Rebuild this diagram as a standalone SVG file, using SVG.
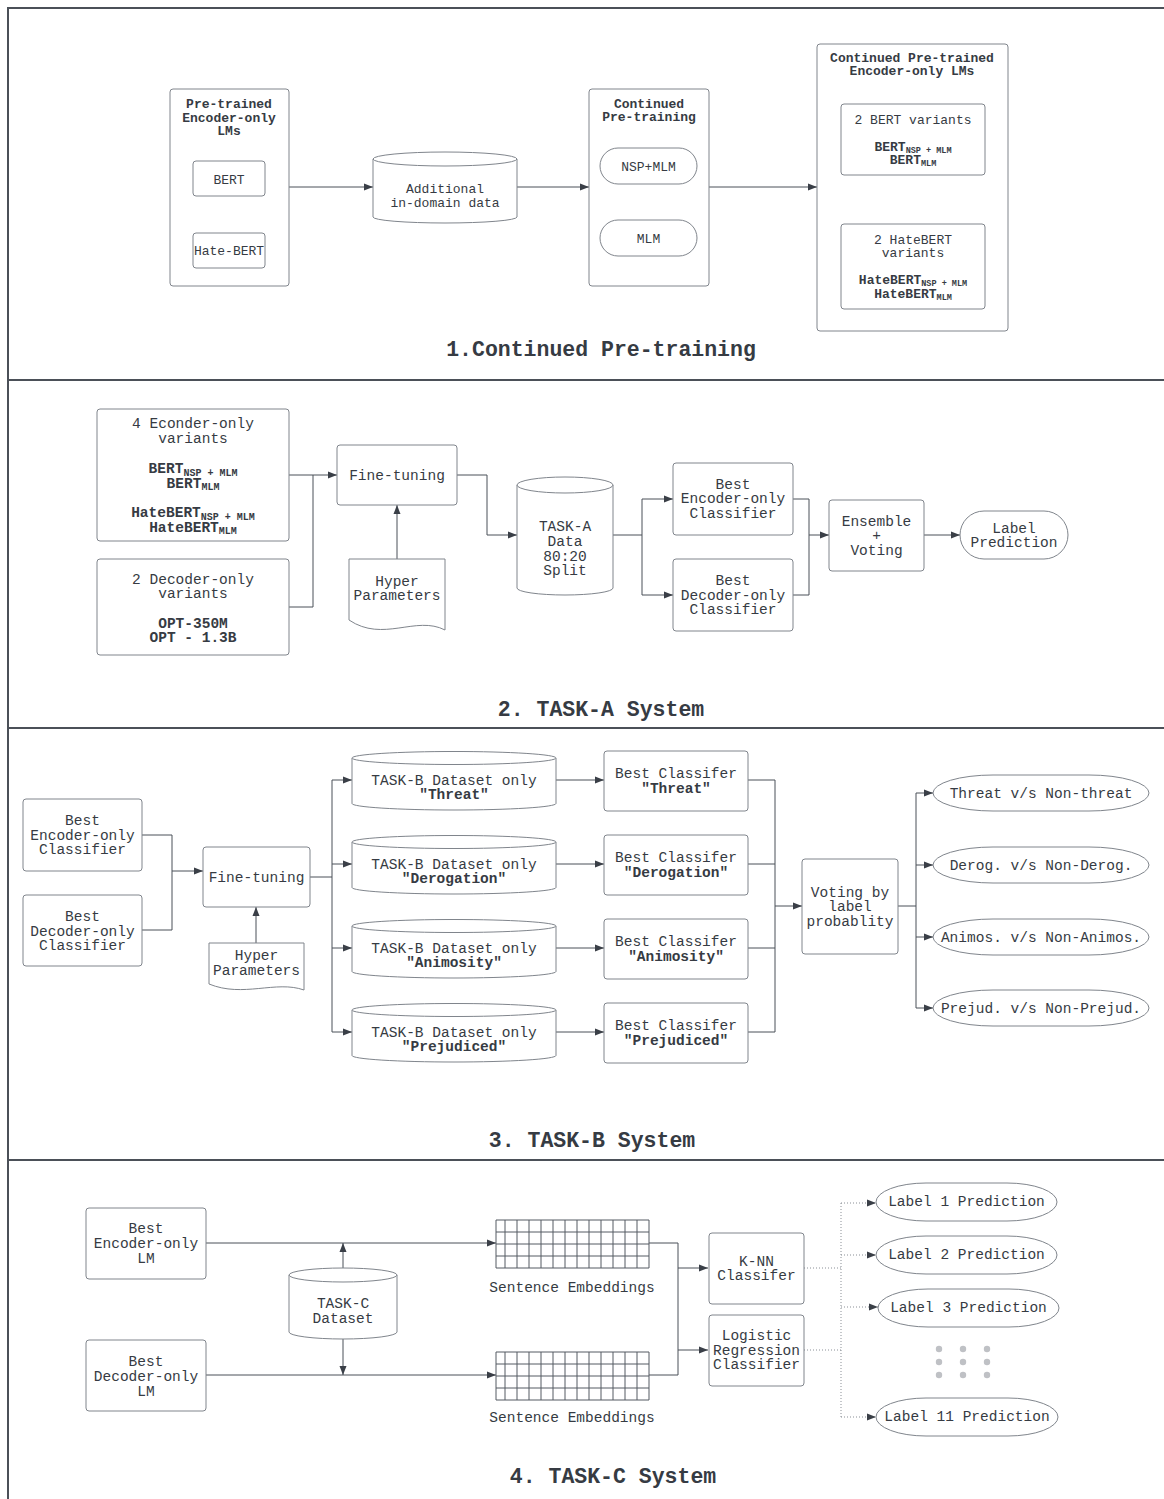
<svg xmlns="http://www.w3.org/2000/svg" width="1164" height="1499" viewBox="0 0 1164 1499">
<style>
.bg{fill:#ffffff}
.frame{stroke:#4b5058;stroke-width:2;fill:none}
.box{fill:#fff;stroke:#80858c;stroke-width:1}
.c{fill:none;stroke:#4b5058;stroke-width:1}
.d{fill:none;stroke:#8a8f96;stroke-width:1;stroke-dasharray:1 2}
.g{fill:none;stroke:#555a62;stroke-width:1}
text{font-family:"Liberation Mono","DejaVu Sans Mono",monospace;fill:#363b43;text-anchor:middle}
.s1{font-size:13px}
.s2{font-size:14.5px}
.b{font-weight:bold}
.ttl{font-size:21.5px;font-weight:bold}
.sub{font-size:8.5px;font-weight:bold}
.sub2{font-size:10px;font-weight:bold}
.dot{fill:#bfc1c5}
</style>
<defs>
<marker id="ah" markerUnits="userSpaceOnUse" markerWidth="10" markerHeight="8" refX="9" refY="4" orient="auto">
<path d="M0,0.5 L9,4 L0,7.5 z" fill="#3a3f47"/>
</marker>
</defs>
<rect class="bg" x="0" y="0" width="1164" height="1499"/>
<g id="frame">
<path class="frame" d="M8,1499 V8 H1164"/>
<path class="frame" d="M8,380 H1164 M8,728 H1164 M8,1160 H1164"/>
</g>

<g id="connectors">
<path class="c" d="M289,187 H373" marker-end="url(#ah)"/>
<path class="c" d="M517,187 H589" marker-end="url(#ah)"/>
<path class="c" d="M709,187 H817" marker-end="url(#ah)"/>
<path class="c" d="M289,475 H337" marker-end="url(#ah)"/>
<path class="c" d="M289,607 H313 V475"/>
<path class="c" d="M397,559 V505" marker-end="url(#ah)"/>
<path class="c" d="M457,475 H487 V535 H517" marker-end="url(#ah)"/>
<path class="c" d="M613,535 H642 V499 H673" marker-end="url(#ah)"/>
<path class="c" d="M642,535 V595 H673" marker-end="url(#ah)"/>
<path class="c" d="M793,499 H809 V535 H829" marker-end="url(#ah)"/>
<path class="c" d="M793,595 H809 V535"/>
<path class="c" d="M924,535 H960" marker-end="url(#ah)"/>
<path class="c" d="M142,835 H172 V871 H203" marker-end="url(#ah)"/>
<path class="c" d="M142,930 H172 V871"/>
<path class="c" d="M256,943 V907" marker-end="url(#ah)"/>
<path class="c" d="M310,877 H332 V780 H352" marker-end="url(#ah)"/>
<path class="c" d="M332,864 H352" marker-end="url(#ah)"/>
<path class="c" d="M332,877 V948 H352" marker-end="url(#ah)"/>
<path class="c" d="M332,948 V1032 H352" marker-end="url(#ah)"/>
<path class="c" d="M556,780 H604" marker-end="url(#ah)"/>
<path class="c" d="M556,864 H604" marker-end="url(#ah)"/>
<path class="c" d="M556,948 H604" marker-end="url(#ah)"/>
<path class="c" d="M556,1032 H604" marker-end="url(#ah)"/>
<path class="c" d="M748,780 H775 V906 H802" marker-end="url(#ah)"/>
<path class="c" d="M748,864 H775"/>
<path class="c" d="M748,948 H775"/>
<path class="c" d="M748,1032 H775 V906"/>
<path class="c" d="M898,906 H916 V793 H933" marker-end="url(#ah)"/>
<path class="c" d="M916,865 H933" marker-end="url(#ah)"/>
<path class="c" d="M916,906 V937 H933" marker-end="url(#ah)"/>
<path class="c" d="M916,937 V1008 H933" marker-end="url(#ah)"/>
<path class="c" d="M206,1243 H496" marker-end="url(#ah)"/>
<path class="c" d="M206,1375 H496" marker-end="url(#ah)"/>
<path class="c" d="M343,1268 V1243" marker-end="url(#ah)"/>
<path class="c" d="M343,1339 V1375" marker-end="url(#ah)"/>
<path class="c" d="M649,1243 H678 V1268 H708" marker-end="url(#ah)"/>
<path class="c" d="M678,1268 V1350 H708" marker-end="url(#ah)"/>
<path class="c" d="M649,1375 H678 V1350"/>
<path class="d" d="M804,1268 H841 M804,1350 H841 M841,1203 V1417"/>
<path class="d" d="M841,1203 H876" marker-end="url(#ah)"/>
<path class="d" d="M841,1255 H876" marker-end="url(#ah)"/>
<path class="d" d="M841,1307 H878" marker-end="url(#ah)"/>
<path class="d" d="M841,1417 H876" marker-end="url(#ah)"/>
</g>

<g id="pretrained-lms">
<rect class="box" x="170" y="89" width="119" height="197" rx="3"/>
<text class="s1 b" x="229" y="108">Pre-trained</text>
<text class="s1 b" x="229" y="121.5">Encoder-only</text>
<text class="s1 b" x="229" y="134.5">LMs</text>
</g>
<g id="bert">
<rect class="box" x="193" y="161" width="72" height="35" rx="3"/>
<text class="s1" x="229" y="183.5">BERT</text>
</g>
<g id="hate-bert">
<rect class="box" x="193" y="233" width="72" height="35" rx="3"/>
<text class="s1" x="229" y="255">Hate-BERT</text>
</g>
<g id="additional-data">
<path class="box" d="M373,159 A72,7 0 0 1 517,159 V217 A72,6 0 0 1 373,217 Z"/>
<path class="box" fill="none" d="M373,159 A72,7 0 0 0 517,159"/>
<text class="s1" x="445" y="193">Additional</text>
<text class="s1" x="445" y="206.5">in-domain data</text>
</g>
<g id="continued-pretraining">
<rect class="box" x="589" y="89" width="120" height="197" rx="3"/>
<text class="s1 b" x="649" y="108">Continued</text>
<text class="s1 b" x="649" y="121">Pre-training</text>
</g>
<g id="nsp-mlm">
<rect class="box" x="600" y="148" width="97" height="36" rx="18"/>
<text class="s1" x="648.5" y="170.5">NSP+MLM</text>
</g>
<g id="mlm">
<rect class="box" x="600" y="220" width="97" height="36" rx="18"/>
<text class="s1" x="648.5" y="242.5">MLM</text>
</g>
<g id="continued-lms">
<rect class="box" x="817" y="44" width="191" height="287" rx="3"/>
<text class="s1 b" x="912" y="61.5">Continued Pre-trained</text>
<text class="s1 b" x="912" y="75">Encoder-only LMs</text>
</g>
<g id="bert-variants">
<rect class="box" x="841" y="104" width="144" height="71" rx="3"/>
<text class="s1" x="913" y="124">2 BERT variants</text>
<text class="s1 b" x="913" y="150.5">BERT<tspan class="sub" dy="2">NSP + MLM</tspan></text>
<text class="s1 b" x="913" y="164">BERT<tspan class="sub" dy="2">MLM</tspan></text>
</g>
<g id="hatebert-variants">
<rect class="box" x="841" y="224" width="144" height="85" rx="3"/>
<text class="s1" x="913" y="244">2 HateBERT</text>
<text class="s1" x="913" y="257">variants</text>
<text class="s1 b" x="913" y="284">HateBERT<tspan class="sub" dy="2">NSP + MLM</tspan></text>
<text class="s1 b" x="913" y="297.5">HateBERT<tspan class="sub" dy="2">MLM</tspan></text>
</g>
<text class="ttl" x="601" y="356">1.Continued Pre-training</text>

<g id="encoder-variants">
<rect class="box" x="97" y="409" width="192" height="132" rx="3"/>
<text class="s2" x="193" y="428">4 Econder-only</text>
<text class="s2" x="193" y="443">variants</text>
<text class="s2 b" x="193" y="473">BERT<tspan class="sub2" dy="2.5">NSP + MLM</tspan></text>
<text class="s2 b" x="193" y="487.5">BERT<tspan class="sub2" dy="2.5">MLM</tspan></text>
<text class="s2 b" x="193" y="517">HateBERT<tspan class="sub2" dy="2.5">NSP + MLM</tspan></text>
<text class="s2 b" x="193" y="531.5">HateBERT<tspan class="sub2" dy="2.5">MLM</tspan></text>
</g>
<g id="decoder-variants">
<rect class="box" x="97" y="559" width="192" height="96" rx="3"/>
<text class="s2" x="193" y="584">2 Decoder-only</text>
<text class="s2" x="193" y="598">variants</text>
<text class="s2 b" x="193" y="628">OPT-350M</text>
<text class="s2 b" x="193" y="642">OPT - 1.3B</text>
</g>
<g id="fine-tuning-a">
<rect class="box" x="337" y="445" width="120" height="60" rx="3"/>
<text class="s2" x="397" y="480">Fine-tuning</text>
</g>
<g id="hyper-a">
<path class="box" d="M349,559 H445 V630 C416,615 383,643 349,620 Z"/>
<text class="s2" x="397" y="586">Hyper</text>
<text class="s2" x="397" y="600">Parameters</text>
</g>
<g id="task-a-data">
<path class="box" d="M517,485 A48,8 0 0 1 613,485 V588 A48,7 0 0 1 517,588 Z"/>
<path class="box" fill="none" d="M517,485 A48,8 0 0 0 613,485"/>
<text class="s2" x="565" y="531">TASK-A</text>
<text class="s2" x="565" y="546">Data</text>
<text class="s2" x="565" y="561">80:20</text>
<text class="s2" x="565" y="575">Split</text>
</g>
<g id="best-encoder-a">
<rect class="box" x="673" y="463" width="120" height="72" rx="3"/>
<text class="s2" x="733" y="488.5">Best</text>
<text class="s2" x="733" y="503">Encoder-only</text>
<text class="s2" x="733" y="518">Classifier</text>
</g>
<g id="best-decoder-a">
<rect class="box" x="673" y="559" width="120" height="72" rx="3"/>
<text class="s2" x="733" y="585">Best</text>
<text class="s2" x="733" y="600">Decoder-only</text>
<text class="s2" x="733" y="614">Classifier</text>
</g>
<g id="ensemble">
<rect class="box" x="829" y="500" width="95" height="71" rx="3"/>
<text class="s2" x="876.5" y="526">Ensemble</text>
<text class="s2" x="876.5" y="540">+</text>
<text class="s2" x="876.5" y="555">Voting</text>
</g>
<g id="label-prediction">
<rect class="box" x="960" y="511" width="108" height="48" rx="24"/>
<text class="s2" x="1014" y="533">Label</text>
<text class="s2" x="1014" y="547">Prediction</text>
</g>
<text class="ttl" x="601" y="716">2. TASK-A System</text>

<g id="best-encoder-b">
<rect class="box" x="23" y="799" width="119" height="72" rx="3"/>
<text class="s2" x="82.5" y="825">Best</text>
<text class="s2" x="82.5" y="840">Encoder-only</text>
<text class="s2" x="82.5" y="854">Classifier</text>
</g>
<g id="best-decoder-b">
<rect class="box" x="23" y="895" width="119" height="71" rx="3"/>
<text class="s2" x="82.5" y="921">Best</text>
<text class="s2" x="82.5" y="935.5">Decoder-only</text>
<text class="s2" x="82.5" y="950">Classifier</text>
</g>
<g id="fine-tuning-b">
<rect class="box" x="203" y="847" width="107" height="60" rx="3"/>
<text class="s2" x="256.5" y="882">Fine-tuning</text>
</g>
<g id="hyper-b">
<path class="box" d="M209,943 H304 V990 C276,980 243,998 209,984 Z"/>
<text class="s2" x="256.5" y="960">Hyper</text>
<text class="s2" x="256.5" y="975">Parameters</text>
</g>
<g id="dataset-threat">
<path class="box" d="M352,758 A102,6.5 0 0 1 556,758 V803.5 A102,6.5 0 0 1 352,803.5 Z"/>
<path class="box" fill="none" d="M352,758 A102,6.5 0 0 0 556,758"/>
<text class="s2" x="454" y="785">TASK-B Dataset only</text>
<text class="s2 b" x="454" y="799">"Threat"</text>
</g>
<g id="dataset-derogation">
<path class="box" d="M352,842 A102,6.5 0 0 1 556,842 V887.5 A102,6.5 0 0 1 352,887.5 Z"/>
<path class="box" fill="none" d="M352,842 A102,6.5 0 0 0 556,842"/>
<text class="s2" x="454" y="869">TASK-B Dataset only</text>
<text class="s2 b" x="454" y="883">"Derogation"</text>
</g>
<g id="dataset-animosity">
<path class="box" d="M352,926 A102,6.5 0 0 1 556,926 V971.5 A102,6.5 0 0 1 352,971.5 Z"/>
<path class="box" fill="none" d="M352,926 A102,6.5 0 0 0 556,926"/>
<text class="s2" x="454" y="953">TASK-B Dataset only</text>
<text class="s2 b" x="454" y="967">"Animosity"</text>
</g>
<g id="dataset-prejudiced">
<path class="box" d="M352,1010 A102,6.5 0 0 1 556,1010 V1055.5 A102,6.5 0 0 1 352,1055.5 Z"/>
<path class="box" fill="none" d="M352,1010 A102,6.5 0 0 0 556,1010"/>
<text class="s2" x="454" y="1037">TASK-B Dataset only</text>
<text class="s2 b" x="454" y="1051">"Prejudiced"</text>
</g>
<g id="clf-threat">
<rect class="box" x="604" y="751" width="144" height="60" rx="3"/>
<text class="s2" x="676" y="778">Best Classifer</text>
<text class="s2 b" x="676" y="793">"Threat"</text>
</g>
<g id="clf-derogation">
<rect class="box" x="604" y="835" width="144" height="60" rx="3"/>
<text class="s2" x="676" y="862">Best Classifer</text>
<text class="s2 b" x="676" y="877">"Derogation"</text>
</g>
<g id="clf-animosity">
<rect class="box" x="604" y="919" width="144" height="60" rx="3"/>
<text class="s2" x="676" y="946">Best Classifer</text>
<text class="s2 b" x="676" y="961">"Animosity"</text>
</g>
<g id="clf-prejudiced">
<rect class="box" x="604" y="1003" width="144" height="60" rx="3"/>
<text class="s2" x="676" y="1030">Best Classifer</text>
<text class="s2 b" x="676" y="1045">"Prejudiced"</text>
</g>
<g id="voting">
<rect class="box" x="802" y="859" width="96" height="95" rx="3"/>
<text class="s2" x="850" y="897">Voting by</text>
<text class="s2" x="850" y="911">label</text>
<text class="s2" x="850" y="926">probablity</text>
</g>
<g id="out-threat">
<rect class="box" x="933" y="775" width="216" height="36" rx="60" ry="18"/>
<text class="s2" x="1041" y="797.5">Threat v/s Non-threat</text>
</g>
<g id="out-derog">
<rect class="box" x="933" y="847" width="216" height="36" rx="60" ry="18"/>
<text class="s2" x="1041" y="870">Derog. v/s Non-Derog.</text>
</g>
<g id="out-animos">
<rect class="box" x="933" y="919" width="216" height="36" rx="60" ry="18"/>
<text class="s2" x="1041" y="941.5">Animos. v/s Non-Animos.</text>
</g>
<g id="out-prejud">
<rect class="box" x="933" y="990" width="216" height="36" rx="60" ry="18"/>
<text class="s2" x="1041" y="1013">Prejud. v/s Non-Prejud.</text>
</g>
<text class="ttl" x="592" y="1147">3. TASK-B System</text>

<g id="best-encoder-lm">
<rect class="box" x="86" y="1208" width="120" height="71" rx="3"/>
<text class="s2" x="146" y="1233">Best</text>
<text class="s2" x="146" y="1248">Encoder-only</text>
<text class="s2" x="146" y="1263">LM</text>
</g>
<g id="best-decoder-lm">
<rect class="box" x="86" y="1340" width="120" height="71" rx="3"/>
<text class="s2" x="146" y="1366">Best</text>
<text class="s2" x="146" y="1381">Decoder-only</text>
<text class="s2" x="146" y="1395.5">LM</text>
</g>
<g id="task-c-dataset">
<path class="box" d="M289,1275 A54,7 0 0 1 397,1275 V1332 A54,7 0 0 1 289,1332 Z"/>
<path class="box" fill="none" d="M289,1275 A54,7 0 0 0 397,1275"/>
<text class="s2" x="343" y="1308">TASK-C</text>
<text class="s2" x="343" y="1323">Dataset</text>
</g>
<g id="embeddings-1">
<path class="g" d="M496,1220 H649 V1268 H496 Z M496,1232 H649 M496,1244 H649 M496,1256 H649 M505,1220 V1268 M517,1220 V1268 M529,1220 V1268 M541,1220 V1268 M553,1220 V1268 M565,1220 V1268 M577,1220 V1268 M589,1220 V1268 M601,1220 V1268 M613,1220 V1268 M625,1220 V1268 M637,1220 V1268"/>
<text class="s2" x="572" y="1292">Sentence Embeddings</text>
</g>
<g id="embeddings-2">
<path class="g" d="M496,1352 H649 V1400 H496 Z M496,1364 H649 M496,1376 H649 M496,1388 H649 M505,1352 V1400 M517,1352 V1400 M529,1352 V1400 M541,1352 V1400 M553,1352 V1400 M565,1352 V1400 M577,1352 V1400 M589,1352 V1400 M601,1352 V1400 M613,1352 V1400 M625,1352 V1400 M637,1352 V1400"/>
<text class="s2" x="572" y="1422">Sentence Embeddings</text>
</g>
<g id="knn">
<rect class="box" x="709" y="1233" width="95" height="71" rx="3"/>
<text class="s2" x="756.5" y="1266">K-NN</text>
<text class="s2" x="756.5" y="1280">Classifer</text>
</g>
<g id="logreg">
<rect class="box" x="709" y="1315" width="95" height="71" rx="3"/>
<text class="s2" x="756.5" y="1340">Logistic</text>
<text class="s2" x="756.5" y="1354.5">Regression</text>
<text class="s2" x="756.5" y="1369">Classifier</text>
</g>
<g id="label-1">
<rect class="box" x="876" y="1183" width="181" height="38" rx="50" ry="19"/>
<text class="s2" x="966.5" y="1206">Label 1 Prediction</text>
</g>
<g id="label-2">
<rect class="box" x="876" y="1236" width="181" height="38" rx="50" ry="19"/>
<text class="s2" x="966.5" y="1259">Label 2 Prediction</text>
</g>
<g id="label-3">
<rect class="box" x="878" y="1289" width="181" height="38" rx="50" ry="19"/>
<text class="s2" x="968.5" y="1312">Label 3 Prediction</text>
</g>
<g id="ellipsis-dots">
<circle class="dot" cx="939" cy="1349" r="3.2"/><circle class="dot" cx="963" cy="1349" r="3.2"/><circle class="dot" cx="987" cy="1349" r="3.2"/>
<circle class="dot" cx="939" cy="1362" r="3.2"/><circle class="dot" cx="963" cy="1362" r="3.2"/><circle class="dot" cx="987" cy="1362" r="3.2"/>
<circle class="dot" cx="939" cy="1375" r="3.2"/><circle class="dot" cx="963" cy="1375" r="3.2"/><circle class="dot" cx="987" cy="1375" r="3.2"/>
</g>
<g id="label-11">
<rect class="box" x="876" y="1398" width="182" height="38" rx="50" ry="19"/>
<text class="s2" x="967" y="1421">Label 11 Prediction</text>
</g>
<text class="ttl" x="613" y="1483">4. TASK-C System</text>
</svg>
